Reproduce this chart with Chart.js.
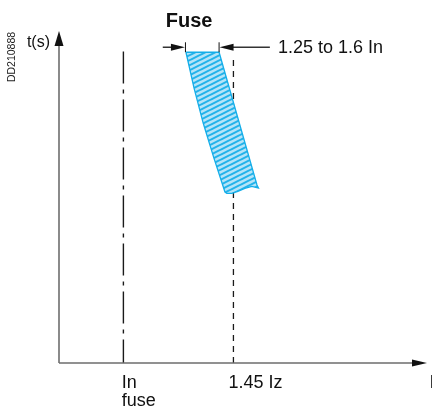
<!DOCTYPE html>
<html>
<head>
<meta charset="utf-8">
<script src="https://cdn.jsdelivr.net/npm/chart.js@4/dist/chart.umd.min.js"></script>
<style>
  body { margin: 0; background: #fff; }
  canvas { display: block; }
</style>
</head>
<body>
<canvas id="fuse-chart" width="432" height="411"></canvas>
<script>
// Chart values (arbitrary units, both axes 0..100)
const xRange = [0, 100];
const yRange = [0, 100];

// reference lines: In fuse (dash-dot) and 1.45 Iz (dashed)
const refLineX = [17.5, 47.4];
const refLineTop = [93.8, 91.3];
const refLabels = [['In', 'fuse'], ['1.45 Iz']];

// fuse operating band (outline, clockwise from top-left)
const bandX = [34.5, 43.5, 53.8, 54.2, 52.4, 50.5, 48.6, 47.0, 45.6, 45.1, 42.1, 39.2, 36.7, 34.5];
const bandY = [93.6, 93.6, 53.6, 52.7, 53.2, 52.6, 51.7, 51.1, 51.1, 51.5, 61.7, 72.2, 82.8, 93.6];

// dimension arrows above the band
const dimY = 95.1;
const dimLeft = [28.2, 34.5];
const dimRight = [57.3, 43.5];
const dimTickTop = 96.6;
const dimText = '1.25 to 1.6 In';
const dimTextX = 59.5;

const titleText = 'Fuse';
const yTitle = 't(s)';
const xTitle = 'I';
const refCode = 'DD210888';

const FONT = '"Liberation Sans", Arial, Helvetica, sans-serif';

// hatch pattern for the band
function makeHatch(ctx) {
    const pc = document.createElement('canvas');
    pc.width = 10;
    pc.height = 5;
    const p = pc.getContext('2d');
    p.fillStyle = '#b5e4f8';
    p.fillRect(0, 0, 10, 5);
    p.strokeStyle = '#22b2ea';
    p.lineWidth = 2;
    [-5, 0, 5].forEach(function(dy) {
        p.beginPath();
        p.moveTo(-1, 5.5 + dy);
        p.lineTo(11, -0.5 + dy);
        p.stroke();
    });
    return ctx.createPattern(pc, 'repeat');
}

// axes with arrows, dimension marks and texts
const decorPlugin = {
    id: 'decor',
    afterDatasetsDraw(chart) {
        const ctx = chart.ctx;
        const xs = chart.scales.x;
        const ys = chart.scales.y;
        const X = v => xs.getPixelForValue(v);
        const Y = v => ys.getPixelForValue(v);

        function arrow(tx, ty, dx, dy, len, half, color) {
            // dx,dy = unit direction the arrow points to
            const bx = tx - dx * len, by = ty - dy * len;
            ctx.beginPath();
            ctx.moveTo(tx, ty);
            ctx.lineTo(bx - dy * half, by + dx * half);
            ctx.lineTo(bx + dy * half, by - dx * half);
            ctx.closePath();
            ctx.fillStyle = color;
            ctx.fill();
        }

        ctx.save();

        // axes
        ctx.strokeStyle = '#6e6e6e';
        ctx.lineWidth = 1.6;
        ctx.beginPath();
        ctx.moveTo(X(xRange[0]), Y(yRange[0]));
        ctx.lineTo(X(xRange[0]), Y(yRange[1]) + 12);
        ctx.moveTo(X(xRange[0]), Y(yRange[0]));
        ctx.lineTo(X(xRange[1]) - 12, Y(yRange[0]));
        ctx.stroke();
        arrow(X(xRange[0]), Y(yRange[1]), 0, -1, 15, 4.5, '#111');
        arrow(X(xRange[1]), Y(yRange[0]), 1, 0, 15, 3.6, '#111');

        // dimension arrows
        ctx.strokeStyle = '#333';
        ctx.lineWidth = 1.3;
        ctx.beginPath();
        ctx.moveTo(X(dimLeft[0]), Y(dimY));
        ctx.lineTo(X(dimLeft[1]) - 8, Y(dimY));
        ctx.moveTo(X(dimRight[0]), Y(dimY));
        ctx.lineTo(X(dimRight[1]) + 8, Y(dimY));
        ctx.stroke();
        ctx.lineWidth = 1;
        ctx.strokeStyle = '#111';
        ctx.beginPath();
        ctx.moveTo(X(dimLeft[1]) - 0.5, Y(dimTickTop));
        ctx.lineTo(X(dimLeft[1]) - 0.5, Y(bandY[0]));
        ctx.moveTo(X(dimRight[1]), Y(dimTickTop));
        ctx.lineTo(X(dimRight[1]), Y(bandY[1]));
        ctx.stroke();
        arrow(X(dimLeft[1]) - 1, Y(dimY), 1, 0, 14, 3.4, '#111');
        arrow(X(dimRight[1]) + 0.5, Y(dimY), -1, 0, 14, 3.4, '#111');

        // texts
        ctx.fillStyle = '#111';
        ctx.textBaseline = 'alphabetic';
        ctx.textAlign = 'left';
        ctx.font = '18px ' + FONT;
        ctx.fillText(dimText, X(dimTextX), Y(dimY) + 5.8);

        ctx.font = 'bold 20px ' + FONT;
        ctx.fillText(titleText, X(29.0), Y(yRange[1]) - 4.5);

        ctx.font = '16px ' + FONT;
        ctx.textAlign = 'right';
        ctx.fillText(yTitle, X(xRange[0]) - 9, Y(yRange[1]) + 15.5);

        ctx.font = '18px ' + FONT;
        ctx.textAlign = 'left';
        const labelShift = [-1.6, -5];
        refLineX.forEach(function(v, i) {
            refLabels[i].forEach(function(line, j) {
                ctx.fillText(line, X(v) + labelShift[i], Y(yRange[0]) + 25 + j * 18);
            });
        });
        ctx.fillText(xTitle, X(xRange[1]) + 2.5, Y(yRange[0]) + 25);

        // drawing reference code, vertical
        ctx.save();
        ctx.translate(14.5, 57);
        ctx.rotate(-Math.PI / 2);
        ctx.font = '10.5px ' + FONT;
        ctx.textAlign = 'center';
        ctx.fillStyle = '#222';
        ctx.fillText(refCode, 0, 0);
        ctx.restore();

        ctx.restore();
    }
};

const canvas = document.getElementById('fuse-chart');
const ctx = canvas.getContext('2d');

const bandPoints = bandX.map((x, i) => ({ x: x, y: bandY[i] }));

const chart = new Chart(ctx, {
    type: 'scatter',
    data: {
        datasets: [
            {
                label: 'Fuse band',
                data: bandPoints,
                showLine: true,
                fill: 'shape',
                backgroundColor: makeHatch(ctx),
                borderColor: '#14aee9',
                borderWidth: 1.3,
                pointRadius: 0,
                tension: 0
            },
            {
                label: 'In fuse',
                data: [{ x: refLineX[0], y: refLineTop[0] }, { x: refLineX[0], y: yRange[0] }],
                showLine: true,
                borderColor: '#1a1a1a',
                borderWidth: 1.4,
                borderDash: [32, 6, 4, 6],
                pointRadius: 0
            },
            {
                label: '1.45 Iz',
                data: [{ x: refLineX[1], y: refLineTop[1] }, { x: refLineX[1], y: yRange[0] }],
                showLine: true,
                borderColor: '#1a1a1a',
                borderWidth: 1.3,
                borderDash: [6, 5],
                pointRadius: 0
            }
        ]
    },
    options: {
        responsive: false,
        animation: false,
        layout: {
            padding: { left: 59, right: 5, top: 31, bottom: 48 }
        },
        plugins: {
            legend: { display: false },
            tooltip: { enabled: false }
        },
        scales: {
            x: { type: 'linear', min: xRange[0], max: xRange[1], display: false },
            y: { type: 'linear', min: yRange[0], max: yRange[1], display: false }
        }
    },
    plugins: [decorPlugin]
});
</script>
</body>
</html>
